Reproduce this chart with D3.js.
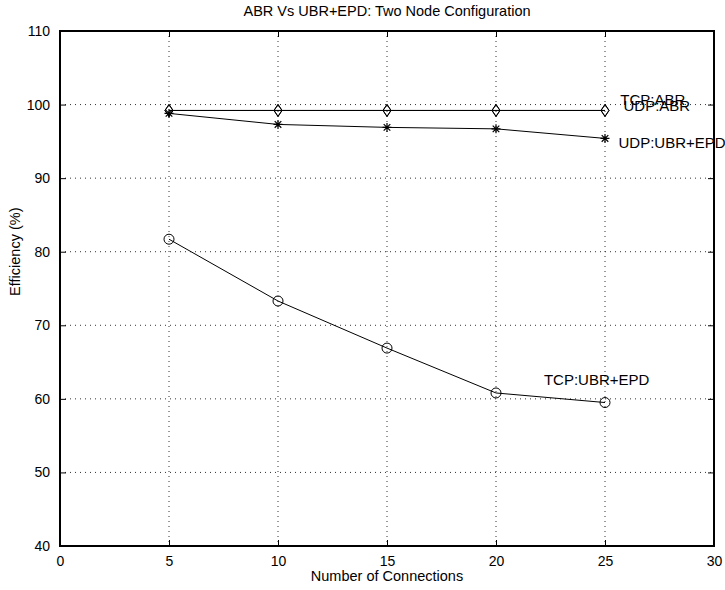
<!DOCTYPE html>
<html>
<head>
<meta charset="utf-8">
<script src="https://cdn.jsdelivr.net/npm/d3@7"></script>
<style>
  body { margin: 0; background: #fff; }
  text { font-family: "Liberation Sans", Arial, sans-serif; fill: #000; }
</style>
</head>
<body>
<div id="chart"></div>
<script>
const connections = [5, 10, 15, 20, 25]
const tcpAbr = [99.2, 99.2, 99.2, 99.2, 99.2]
const udpAbr = [99.2, 99.2, 99.2, 99.2, 99.2]
const udpUbrEpd = [98.8, 97.3, 96.9, 96.7, 95.4]
const tcpUbrEpd = [81.7, 73.3, 66.9, 60.8, 59.5]
const xTicks = [0, 5, 10, 15, 20, 25, 30]
const yTicks = [40, 50, 60, 70, 80, 90, 100, 110]

const width = 725,
    height = 590,
    margin = { top: 31, right: 11, bottom: 44, left: 60 };

const plotW = width - margin.left - margin.right,
    plotH = height - margin.top - margin.bottom;

const svg = d3.select("#chart")
    .append("svg")
    .attr("width", width)
    .attr("height", height)

const g = svg.append("g")
    .attr("transform", `translate(${margin.left}, ${margin.top})`)

const x = d3.scaleLinear().domain([0, 30]).range([0, plotW])
const y = d3.scaleLinear().domain([40, 110]).range([plotH, 0])

// dotted grid
g.selectAll(".vgrid")
    .data(xTicks.slice(1, -1))
    .join("line")
    .attr("x1", d => x(d)).attr("x2", d => x(d))
    .attr("y1", 0).attr("y2", plotH)
    .attr("stroke", "#333")
    .attr("stroke-width", 1)
    .attr("stroke-dasharray", "1,4")

g.selectAll(".hgrid")
    .data(yTicks.slice(1, -1))
    .join("line")
    .attr("x1", 0).attr("x2", plotW)
    .attr("y1", d => y(d)).attr("y2", d => y(d))
    .attr("stroke", "#333")
    .attr("stroke-width", 1)
    .attr("stroke-dasharray", "1,4")

// axes, ticks point inwards like matlab
const tickLen = 6
g.append("g")
    .attr("transform", `translate(0, ${plotH})`)
    .call(d3.axisBottom(x).tickValues(xTicks).tickSize(-tickLen).tickPadding(10))
g.append("g")
    .call(d3.axisTop(x).tickValues(xTicks).tickSize(-tickLen).tickFormat(""))
g.append("g")
    .call(d3.axisLeft(y).tickValues(yTicks).tickSize(-tickLen).tickPadding(10))
g.append("g")
    .attr("transform", `translate(${plotW}, 0)`)
    .call(d3.axisRight(y).tickValues(yTicks).tickSize(-tickLen).tickFormat(""))

g.selectAll(".domain").remove()
g.selectAll(".tick line").attr("stroke", "#000")
g.selectAll(".tick text")
    .style("font-size", "14px")
    .style("font-family", "Liberation Sans, Arial, sans-serif")

g.append("rect")
    .attr("width", plotW).attr("height", plotH)
    .attr("fill", "none")
    .attr("stroke", "#000")
    .attr("stroke-width", 2)

// lines
const series = [
    { name: "TCP:ABR", values: tcpAbr, marker: "diamond" },
    { name: "UDP:ABR", values: udpAbr, marker: "diamond" },
    { name: "UDP:UBR+EPD", values: udpUbrEpd, marker: "star" },
    { name: "TCP:UBR+EPD", values: tcpUbrEpd, marker: "circle" }
]

const line = d3.line()
    .x((d, i) => x(connections[i]))
    .y(d => y(d))

g.selectAll(".series")
    .data(series)
    .join("path")
    .attr("d", d => line(d.values))
    .attr("fill", "none")
    .attr("stroke", "#000")
    .attr("stroke-width", 1)

series.forEach(s => {
    const pts = s.values.map((v, i) => [x(connections[i]), y(v)])
    if (s.marker === "circle") {
        g.selectAll(null).data(pts).join("circle")
            .attr("cx", d => d[0]).attr("cy", d => d[1])
            .attr("r", 5)
            .attr("fill", "none").attr("stroke", "#000").attr("stroke-width", 1)
    } else if (s.marker === "diamond") {
        g.selectAll(null).data(pts).join("path")
            .attr("d", d => `M${d[0]},${d[1] - 6}L${d[0] + 4},${d[1]}L${d[0]},${d[1] + 6}L${d[0] - 4},${d[1]}Z`)
            .attr("fill", "none").attr("stroke", "#000").attr("stroke-width", 1)
    } else {
        g.selectAll(null).data(pts).join("path")
            .attr("d", d => `M${d[0] - 4.5},${d[1]}H${d[0] + 4.5}M${d[0]},${d[1] - 4.5}V${d[1] + 4.5}` +
                `M${d[0] - 3.3},${d[1] - 3.3}L${d[0] + 3.3},${d[1] + 3.3}M${d[0] - 3.3},${d[1] + 3.3}L${d[0] + 3.3},${d[1] - 3.3}`)
            .attr("fill", "none").attr("stroke", "#000").attr("stroke-width", 1.2)
    }
})

// curve labels (data coordinates)
const labelNames = ["TCP:ABR", "UDP:ABR", "UDP:UBR+EPD", "TCP:UBR+EPD"]
const labelX = [25.7, 25.85, 25.62, 22.2]
const labelY = [99.95, 99.15, 94.1, 61.9]

g.selectAll(".curve-label")
    .data(labelNames)
    .join("text")
    .attr("x", (d, i) => x(labelX[i]))
    .attr("y", (d, i) => y(labelY[i]))
    .style("font-size", "15px")
    .text(d => d)

// the box edge is drawn over the label that runs past it
g.append("line")
    .attr("x1", plotW).attr("x2", plotW)
    .attr("y1", 0).attr("y2", plotH)
    .attr("stroke", "#000").attr("stroke-width", 2)

svg.append("text")
    .attr("x", margin.left + plotW / 2)
    .attr("y", 16)
    .attr("text-anchor", "middle")
    .style("font-size", "14.5px")
    .text("ABR Vs UBR+EPD: Two Node Configuration")

svg.append("text")
    .attr("x", margin.left + plotW / 2)
    .attr("y", 581)
    .attr("text-anchor", "middle")
    .style("font-size", "14.5px")
    .text("Number of Connections")

svg.append("text")
    .attr("transform", `translate(20, ${margin.top + y(80)}) rotate(-90)`)
    .attr("text-anchor", "middle")
    .style("font-size", "14.5px")
    .text("Efficiency (%)")
</script>
</body>
</html>
